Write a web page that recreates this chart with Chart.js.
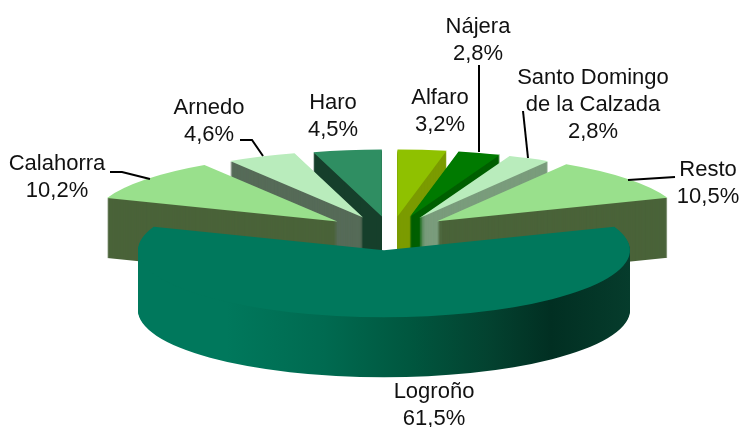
<!DOCTYPE html>
<html>
<head>
<meta charset="utf-8">
<style>
  html, body { margin: 0; padding: 0; background: #fff; }
  canvas { display: block; }
</style>
<script src="https://cdn.jsdelivr.net/npm/chart.js@4"></script>
</head>
<body>
<canvas id="pieChart" width="741" height="427"></canvas>
<script>
const categories = ['Alfaro', 'Nájera', 'Santo Domingo\nde la Calzada', 'Resto', 'Logroño', 'Calahorra', 'Arnedo', 'Haro'];
const shares = [3.2, 2.8, 2.8, 10.5, 61.5, 10.2, 4.6, 4.5];

const topColors = ['#8fc100', '#007a00', '#b9ecbc', '#99e08c', '#00785c', '#99e08c', '#b9ecbc', '#2f8e62'];
const wallColors = ['#7b9b00', '#005f00', '#7a9c7c', '#4a6339', null, '#4a6339', '#566b58', '#163f2b'];

// far slices first, Logroño goes over everything
const drawOrder = [7, 6, 5, 0, 1, 2, 3, 4];
const mainSlice = 4;

// label centre for the first line of each category
const labelAnchors = [[440, 98], [478, 27], [593, 78], [708, 170], [434, 392], [57, 164], [209, 108], [333, 103]];
const leaderLines = [
    [[110, 172], [122, 172], [150, 179]],
    [[240, 140], [252, 140], [263, 156]],
    [[479, 65], [479, 152]],
    [[523, 111], [528, 158]],
    [[675, 177], [628, 180]],
];

const radiusX = 246, radiusY = 67, depth = 60, explode = 65;
const centerX = 384, centerY = 232.6;
// small per-slice corrections, the original is not a clean explode
const sliceNudgeX = [7, 7, 6, 3, 0, 4, 6, 7];
const sliceNudgeY = [1.5, 1.5, 1.5, 0, 0, 0, 1, 1.5];

function paintArc(chart, el, fill, dropY, i) {
    const ctx = chart.ctx;
    const mid = (el.startAngle + el.endAngle) / 2;
    const squash = radiusY / radiusX;
    const saved = el.options;
    ctx.save();
    ctx.translate(centerX + sliceNudgeX[i] + Math.cos(mid) * explode,
                  centerY + sliceNudgeY[i] + dropY + Math.sin(mid) * explode * squash);
    ctx.scale(radiusX / el.outerRadius, radiusY / el.outerRadius);
    ctx.translate(-el.x, -el.y);
    el.options = Object.assign({}, saved, { backgroundColor: fill });
    el.draw(ctx);
    el.options = saved;
    ctx.restore();
}

function sideGradient(chart, el) {
    const g = chart.ctx.createLinearGradient(el.x - el.outerRadius, 0, el.x + el.outerRadius, 0);
    g.addColorStop(0, '#00785c');
    g.addColorStop(0.18, '#00785c');
    g.addColorStop(0.38, '#006a50');
    g.addColorStop(0.55, '#00573f');
    g.addColorStop(0.72, '#03412f');
    g.addColorStop(0.84, '#012f22');
    g.addColorStop(1, '#063c2c');
    return g;
}

const pie3d = {
    id: 'pie3d',
    beforeDatasetsDraw(chart) {
        const arcs = chart.getDatasetMeta(0).data;
        drawOrder.forEach(i => {
            const el = arcs[i];
            const wall = i === mainSlice ? sideGradient(chart, el) : wallColors[i];
            for (let d = depth; d > 0; d--) {
                paintArc(chart, el, wall, d, i);
            }
            paintArc(chart, el, topColors[i], 0, i);
        });
        return false;
    },
    afterDraw(chart) {
        const ctx = chart.ctx;
        ctx.save();
        ctx.strokeStyle = '#000';
        ctx.lineWidth = 2;
        leaderLines.forEach(line => {
            ctx.beginPath();
            line.forEach((p, i) => i ? ctx.lineTo(p[0], p[1]) : ctx.moveTo(p[0], p[1]));
            ctx.stroke();
        });
        ctx.fillStyle = '#111';
        ctx.font = '22px "Liberation Sans", Arial, sans-serif';
        ctx.textAlign = 'center';
        ctx.textBaseline = 'middle';
        categories.forEach((name, i) => {
            const share = shares[i].toFixed(1).replace('.', ',') + '%';
            const lines = name.split('\n').concat(share);
            lines.forEach((text, n) => {
                ctx.fillText(text, labelAnchors[i][0], labelAnchors[i][1] + n * 27);
            });
        });
        ctx.restore();
    },
};

new Chart(document.getElementById('pieChart').getContext('2d'), {
    type: 'pie',
    data: {
        labels: categories,
        datasets: [{ data: shares, backgroundColor: topColors, borderWidth: 0 }],
    },
    options: {
        responsive: false,
        animation: false,
        plugins: { legend: { display: false }, tooltip: { enabled: false } },
    },
    plugins: [pie3d],
});
</script>
</body>
</html>
